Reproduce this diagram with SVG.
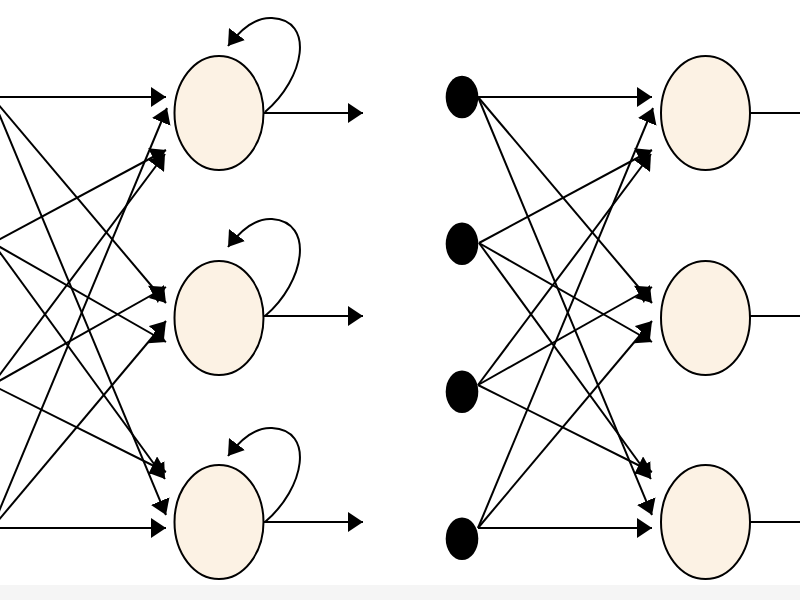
<svg xmlns="http://www.w3.org/2000/svg" width="800" height="600" viewBox="0 0 800 600">
<style>
.neuron{fill:#FCF2E4;stroke:#000;stroke-width:2}
.input{fill:#000;stroke:none}
.c{stroke:#000;stroke-width:2;fill:none;marker-end:url(#ah)}
.o{stroke:#000;stroke-width:2;fill:none}
</style>
<defs>
<marker id="ah" markerUnits="userSpaceOnUse" viewBox="0 0 15 20" refX="15" refY="10" markerWidth="15" markerHeight="20" orient="auto">
<path d="M0,0 L15,10 L0,20 z" fill="#000"/>
</marker>
</defs>
<rect x="0" y="0" width="800" height="600" fill="#fff"/>
<rect x="0" y="585" width="800" height="15" fill="#f5f5f5"/>

<g id="connectors">
<line class="c" x1="-8" y1="97" x2="166" y2="97"/>
<line class="c" x1="-8" y1="528" x2="167" y2="108"/>
<line class="c" x1="-7" y1="243" x2="166" y2="150"/>
<line class="c" x1="-8" y1="385" x2="165" y2="154"/>
<line class="c" x1="-8" y1="97" x2="166" y2="303"/>
<line class="c" x1="-8" y1="385" x2="166" y2="287"/>
<line class="c" x1="-7" y1="243" x2="166" y2="342"/>
<line class="c" x1="-8" y1="528" x2="166" y2="321"/>
<line class="c" x1="-8" y1="97" x2="166" y2="515"/>
<line class="c" x1="-7" y1="243" x2="165" y2="479"/>
<line class="c" x1="-8" y1="385" x2="166" y2="472"/>
<line class="c" x1="-8" y1="528" x2="166" y2="528"/>
<line class="c" x1="264" y1="113" x2="363" y2="113"/>
<line class="c" x1="264" y1="316" x2="363" y2="316"/>
<line class="c" x1="264" y1="522" x2="363" y2="522"/>
<path class="c" d="M265,112 C305,78 315,20 272,18 C255,17 240,30 228,46"/>
<path class="c" d="M265,316 C305,282 315,222 272,219 C255,218 240,231 228,247"/>
<path class="c" d="M265,522 C305,488 315,430 272,428 C255,427 240,440 228,456"/>
<line class="c" x1="478" y1="97" x2="652" y2="97"/>
<line class="c" x1="478" y1="528" x2="653" y2="108"/>
<line class="c" x1="479" y1="243" x2="652" y2="150"/>
<line class="c" x1="478" y1="385" x2="651" y2="154"/>
<line class="c" x1="478" y1="97" x2="652" y2="303"/>
<line class="c" x1="478" y1="385" x2="652" y2="287"/>
<line class="c" x1="479" y1="243" x2="652" y2="342"/>
<line class="c" x1="478" y1="528" x2="652" y2="321"/>
<line class="c" x1="478" y1="97" x2="652" y2="515"/>
<line class="c" x1="479" y1="243" x2="651" y2="479"/>
<line class="c" x1="478" y1="385" x2="652" y2="472"/>
<line class="c" x1="478" y1="528" x2="652" y2="528"/>
<line class="o" x1="750" y1="113" x2="800" y2="113"/>
<line class="o" x1="750" y1="316" x2="800" y2="316"/>
<line class="o" x1="750" y1="522" x2="800" y2="522"/>
</g>

<g id="left-h1"><ellipse class="neuron" cx="219" cy="113" rx="44.5" ry="57"/></g>
<g id="left-h2"><ellipse class="neuron" cx="219" cy="318" rx="44.5" ry="57"/></g>
<g id="left-h3"><ellipse class="neuron" cx="219" cy="522" rx="44.5" ry="57"/></g>

<g id="right-x1"><ellipse class="input" cx="462" cy="97" rx="16.3" ry="21.3"/></g>
<g id="right-x2"><ellipse class="input" cx="462" cy="243.8" rx="16.3" ry="21.3"/></g>
<g id="right-x3"><ellipse class="input" cx="462" cy="391.7" rx="16.3" ry="21.3"/></g>
<g id="right-x4"><ellipse class="input" cx="462" cy="538.7" rx="16.3" ry="21.3"/></g>

<g id="right-h1"><ellipse class="neuron" cx="705.5" cy="113" rx="44.5" ry="57"/></g>
<g id="right-h2"><ellipse class="neuron" cx="705.5" cy="318" rx="44.5" ry="57"/></g>
<g id="right-h3"><ellipse class="neuron" cx="705.5" cy="522" rx="44.5" ry="57"/></g>
</svg>
